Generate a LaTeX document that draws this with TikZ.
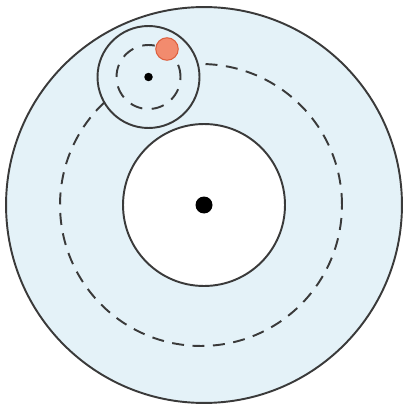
\documentclass[tikz,border=0pt]{standalone}
\usetikzlibrary{positioning}
\definecolor{discblue}{HTML}{E4F2F8}
\definecolor{linegray}{HTML}{3A3A3A}
\definecolor{ballorange}{HTML}{F28B6E}
\definecolor{ballrim}{HTML}{DD5F3E}

\begin{document}
\begin{tikzpicture}[
  x=0.02cm,y=-0.02cm,
  ring/.style={draw=linegray,line width=1.1pt},
  orbit/.style={draw=linegray,line width=1.1pt,dash pattern=on 0.24cm off 0.17cm},
  hub/.style={circle,fill=black,inner sep=0pt},
]
\useasboundingbox (0,0) rectangle (402,412);

% centres
\coordinate (c) at (204,205);
\coordinate (o) at (201,205);
\coordinate (s) at (148.5,77);

% big disc with the hole
\draw[ring,fill=discblue] (c) circle[radius=3.96cm];
\draw[ring,fill=white] (c) circle[radius=1.62cm];
\node[hub,minimum size=0.34cm] (chub) at (c) {};

% big orbit
\draw[orbit] (o) circle[radius=2.82cm];

% small disc on the orbit
\draw[ring,fill=discblue] (s) circle[radius=1.02cm];
\draw[orbit,dash pattern=on 0.25cm off 0.19cm] (s) circle[radius=0.64cm];
\node[hub,minimum size=0.17cm] (shub) at (s) {};

% ball
\node[circle,fill=ballorange,draw=ballrim,line width=0.6pt,minimum size=0.45cm,inner sep=0pt] (ball) at (167,49) {};

\end{tikzpicture}
\end{document}
